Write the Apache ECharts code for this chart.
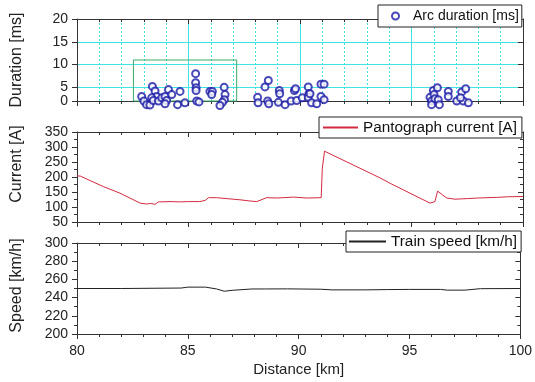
<!DOCTYPE html>
<html>
<head>
<meta charset="utf-8">
<script src="https://cdn.jsdelivr.net/npm/echarts@6/dist/echarts.min.js"></script>
<style>html,body{margin:0;padding:0;background:#fff}#c{width:535px;height:382px}</style>
</head>
<body>
<div id="c"></div>
<script>
// ---- data ----
var arcKm = [82.90,83.00,83.12,83.27,83.38,83.50,83.57,83.35,83.42,83.65,83.80,83.95,84.02,84.10,84.25,83.95,84.62,84.51,84.84,85.32,85.32,85.34,85.34,85.37,85.47,85.96,86.07,86.04,86.60,86.64,86.61,86.52,86.41,
  88.10,88.12,88.58,88.43,88.55,88.60,89.03,89.07,89.09,89.33,89.60,89.75,89.80,89.85,90.10,90.37,90.40,90.37,90.52,90.75,90.94,91.08,90.94,91.08,90.45,
  95.83,95.90,95.98,96.16,96.01,96.05,96.20,96.25,95.90,96.65,96.65,97.03,97.25,97.43,97.32,97.55,97.20];
var arcMs = [3.0,2.0,1.2,1.1,5.2,4.2,3.0,2.7,2.1,2.0,2.7,3.0,2.1,4.5,3.4,1.4,4.1,1.2,1.6,8.0,6.0,4.9,4.3,2.0,1.8,4.1,4.1,3.4,5.0,3.4,2.3,1.7,1.0,
  2.8,1.6,6.5,5.1,2.0,1.4,1.7,4.3,3.6,1.2,2.0,4.3,4.7,2.1,2.7,5.1,3.6,2.8,1.6,1.4,5.7,5.7,3.0,2.3,3.6,
  2.8,2.0,4.3,4.9,3.4,2.5,2.3,1.2,1.2,4.1,3.0,2.0,4.0,4.7,2.0,1.6,2.7];

var curKm = [80.0,80.15,81.18,81.93,82.83,83.12,83.3,83.5,83.65,84.17,84.6,85.0,85.5,85.75,85.89,86.26,86.86,87.31,87.76,88.06,88.5,89.0,89.7,90.3,90.95,91.0,91.1,93.59,94.04,95.83,96.05,96.17,96.4,96.58,96.95,97.5,98.0,98.8,99.3,100.0];
var curA  = [204,203,168,146,113,110,112,109,117,118,117,118,118,122,131,131,127,124,120,118,131,130,133,130,131,229,286,197,179,113,118,153,140,130,126,128,130,132,134,135];

var spdKm = [80,82,84.7,85,85.8,86.3,86.64,87,87.9,88.5,89.5,91,91.5,93,94,95,96.4,96.7,97.5,98.2,100];
var spdV  = [250,250,250.5,251.5,251.5,249.5,247,248,249.5,249.5,249.6,249.2,248.5,248.5,248.8,249,249,248.2,248.2,249.8,250];

var xTicks = [80,85,90,95,100];
var durTickVals = [2,5,10,15,20];
var durTickLabels = ['0','5','10','15','20'];
var markBox = [[82.53,11.0],[87.16,-1.6]];

var seriesNames = ['Arc duration [ms]','Pantograph current [A]','Train speed [km/h]'];
var axisNames = ['Duration [ms]','Current [A]','Speed [km/h]','Distance [km]'];

// ---- chart ----
var FONT = 'Liberation Sans, Arial, sans-serif';
var AX = '#333';
var CYAN = '#3fe3e3';
var chart = echarts.init(document.getElementById('c'), null, {renderer:'canvas'});

function zip(a,b){ return a.map(function(v,i){return [v,b[i]];}); }
function durLabel(v){
  for (var i=0;i<durTickVals.length;i++){ if (Math.abs(durTickVals[i]-v)<1e-6) return durTickLabels[i]; }
  return '';
}

var grids = [
  {left:77,right:12,top:19,height:82},
  {left:77,right:12,top:132,height:90},
  {left:77,right:12,top:243,height:91}
];

var xAxes = [], yAxes = [];
for (var g=0; g<3; g++){
  xAxes.push({
    type:'value', gridIndex:g, min:xTicks[0], max:xTicks[xTicks.length-1], interval:5, position:'bottom',
    axisLine:{show:true,lineStyle:{color:AX,width:1}},
    axisTick:{show:true,inside:false,length:5,lineStyle:{color:AX}},
    minorTick:{show:true,splitNumber:5,length:3,lineStyle:{color:AX}},
    axisLabel:{show:g===2,margin:10,fontSize:14,color:'#222',fontFamily:FONT},
    splitLine:{show:g===0,lineStyle:{color:CYAN,width:1}},
    minorSplitLine:{show:g===0,lineStyle:{color:CYAN,width:1,type:[2,2]}},
    name:g===2?axisNames[3]:'', nameLocation:'middle', nameGap:28,
    nameTextStyle:{fontSize:15,color:'#222',fontFamily:FONT}
  });
  xAxes.push({
    type:'value', gridIndex:g, min:80, max:100, interval:5, position:'top',
    axisLine:{show:true,lineStyle:{color:AX,width:1}},
    axisTick:{show:true,inside:true,length:5,lineStyle:{color:AX}},
    minorTick:{show:true,splitNumber:5,length:3,lineStyle:{color:AX}},
    axisLabel:{show:false}, splitLine:{show:false}
  });
}

// top panel y axes
var yTopCommon = { type:'value', gridIndex:0, min:durTickVals[0], max:durTickVals[durTickVals.length-1] };
yAxes.push(Object.assign({}, yTopCommon, {
  position:'left',
  axisLine:{show:true,lineStyle:{color:AX}},
  axisTick:{show:true,inside:false,length:5,customValues:durTickVals,lineStyle:{color:AX}},
  axisLabel:{show:true,showMinLabel:true,showMaxLabel:true,margin:9,fontSize:14,
    color:'#222',fontFamily:FONT,customValues:durTickVals.slice(1),formatter:durLabel},
  splitLine:{show:true,lineStyle:{color:CYAN,width:1}},
  name:axisNames[0], nameLocation:'middle', nameGap:52,
  nameTextStyle:{fontSize:16,color:'#222',fontFamily:FONT}
}));
yAxes.push(Object.assign({}, yTopCommon, {
  position:'right',
  axisLine:{show:true,lineStyle:{color:AX}},
  axisTick:{show:true,inside:true,length:5,customValues:durTickVals,lineStyle:{color:AX}},
  axisLabel:{show:false}, splitLine:{show:false}
}));

// middle
var ymid = {type:'value',gridIndex:1,min:50,max:350,interval:50};
yAxes.push(Object.assign({}, ymid, {
  position:'left',
  axisLine:{show:true,lineStyle:{color:AX}},
  axisTick:{show:true,inside:false,length:5,lineStyle:{color:AX}},
  minorTick:{show:true,splitNumber:2,length:3,lineStyle:{color:AX}},
  axisLabel:{margin:9,fontSize:14,color:'#222',fontFamily:FONT},
  splitLine:{show:false},
  name:axisNames[1], nameLocation:'middle', nameGap:52,
  nameTextStyle:{fontSize:16,color:'#222',fontFamily:FONT,padding:[0,0,0,26]}
}));
yAxes.push(Object.assign({}, ymid, {
  position:'right',
  axisLine:{show:true,lineStyle:{color:AX}},
  axisTick:{show:true,inside:true,length:5,lineStyle:{color:AX}},
  minorTick:{show:true,splitNumber:2,length:3,lineStyle:{color:AX}},
  axisLabel:{show:false}, splitLine:{show:false}
}));

// bottom
var ybot = {type:'value',gridIndex:2,min:200,max:300,interval:20};
yAxes.push(Object.assign({}, ybot, {
  position:'left',
  axisLine:{show:true,lineStyle:{color:AX}},
  axisTick:{show:true,inside:false,length:5,lineStyle:{color:AX}},
  minorTick:{show:true,splitNumber:2,length:3,lineStyle:{color:AX}},
  axisLabel:{margin:9,fontSize:14,color:'#222',fontFamily:FONT},
  splitLine:{show:false},
  name:axisNames[2], nameLocation:'middle', nameGap:52,
  nameTextStyle:{fontSize:16,color:'#222',fontFamily:FONT,padding:[0,0,0,6]}
}));
yAxes.push(Object.assign({}, ybot, {
  position:'right',
  axisLine:{show:true,lineStyle:{color:AX}},
  axisTick:{show:true,inside:true,length:5,lineStyle:{color:AX}},
  minorTick:{show:true,splitNumber:2,length:3,lineStyle:{color:AX}},
  axisLabel:{show:false}, splitLine:{show:false}
}));

// extra label-only axis for the bottom "0" label of the top panel
yAxes.push(Object.assign({}, yTopCommon, {
  position:'left', offset:0,
  axisLine:{show:false}, axisTick:{show:false}, splitLine:{show:false},
  axisLabel:{show:true,showMinLabel:true,margin:9,fontSize:14,color:'#222',fontFamily:FONT,
    customValues:durTickVals.slice(0,1),formatter:durLabel}
}));

var legendBase = {
  orient:'horizontal', backgroundColor:'#fff', borderColor:'#222', borderWidth:1, borderRadius:0,
  textStyle:{fontSize:15,color:'#111',fontFamily:FONT}, itemGap:0
};

var option = {
  animation:false,
  backgroundColor:'#fff',
  grid:grids,
  xAxis:xAxes,
  yAxis:yAxes,
  legend:[
    Object.assign({}, legendBase, {data:[seriesNames[0]], left:378, top:5, padding:[4,3,4,13], itemWidth:7, itemHeight:7,
      textStyle:{fontSize:14,color:'#111',fontFamily:FONT,padding:[0,0,0,9]}}),
    Object.assign({}, legendBase, {data:[seriesNames[1]], left:319, top:117, padding:[3,5,3,3], itemWidth:35, itemHeight:10,
      itemStyle:{opacity:0}, textStyle:{fontSize:15.3,color:'#111',fontFamily:FONT}}),
    Object.assign({}, legendBase, {data:[seriesNames[2]], left:346, top:231, padding:[3,4,3,2], itemWidth:37, itemHeight:10,
      itemStyle:{opacity:0}, textStyle:{fontSize:15.3,color:'#111',fontFamily:FONT}})
  ],
  series:[
    {
      name:seriesNames[0], type:'scatter', xAxisIndex:0, yAxisIndex:0, clip:false,
      symbol:'emptyCircle', symbolSize:7,
      itemStyle:{color:'#1a1aa8', borderColor:'#1a1aa8', borderWidth:1},
      data:zip(arcKm, arcMs),
      z:3,
      markArea:{silent:true, itemStyle:{color:'rgba(0,0,0,0)', borderColor:'#3aaa6a', borderWidth:1},
        data:[[{coord:markBox[0]},{coord:markBox[1]}]]}
    },
    {
      name:seriesNames[1], type:'line', xAxisIndex:2, yAxisIndex:2, symbol:'none', smooth:false,
      lineStyle:{color:'#d42a40', width:1}, itemStyle:{color:'#d42a40'},
      data:zip(curKm, curA)
    },
    {
      name:seriesNames[2], type:'line', xAxisIndex:4, yAxisIndex:4, symbol:'none', smooth:false,
      lineStyle:{color:'#222', width:1}, itemStyle:{color:'#222'},
      data:zip(spdKm, spdV)
    }
  ]
};
chart.setOption(option);
</script>
</body>
</html>
